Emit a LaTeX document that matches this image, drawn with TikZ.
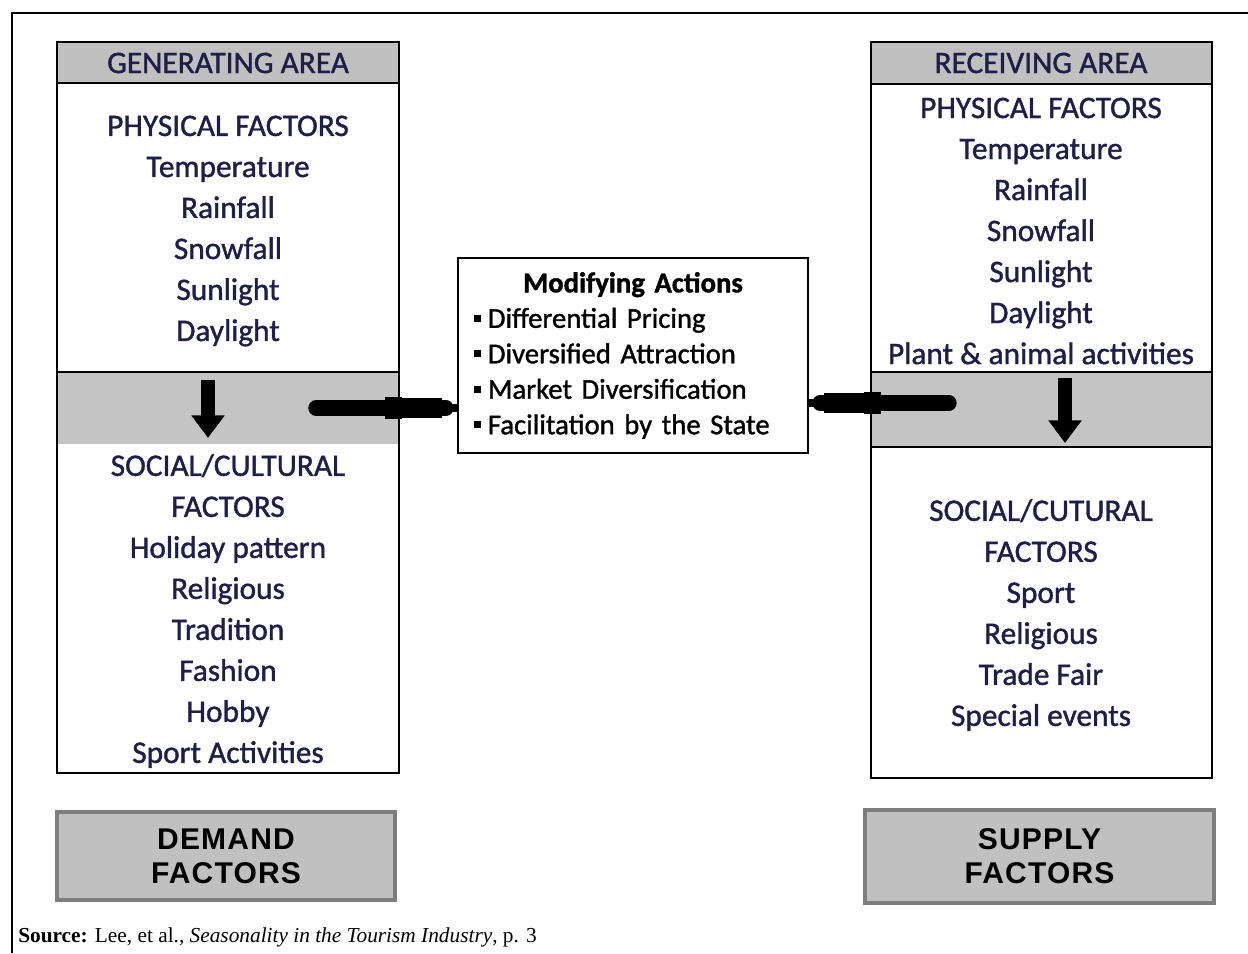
\documentclass[tikz,border=0pt]{standalone}
\usepackage{fontspec}
\setmainfont{Carlito}[FakeBold=1.2]
\newfontfamily\headfont[LetterSpace=4]{Liberation Sans}
\newfontfamily\srcfont{Liberation Serif}
\usetikzlibrary{arrows.meta,positioning}
\definecolor{navytext}{RGB}{30,30,72}
\definecolor{hdrgray}{RGB}{192,192,192}
\definecolor{bandgray}{RGB}{196,196,196}
\definecolor{rimgray}{RGB}{125,125,125}
\newcommand{\sqbul}{\rule[4.5pt]{5.2pt}{5.2pt}\hspace{5pt}}
\tikzset{
  outerframe/.style={line width=1.5pt},
  colbox/.style={draw, line width=2.2pt},
  hdrbox/.style={draw, fill=hdrgray, line width=2.2pt},
  band/.style={fill=bandgray},
  coltext/.style={text=navytext, align=center, font=\fontsize{23.5}{30.75}\selectfont},
  modbox/.style={draw, line width=1.5pt, minimum width=262.5pt, minimum height=146pt, text width=238pt, inner sep=0pt, font=\fontsize{21.5}{26.6}\selectfont},
  sumbox/.style={draw=rimgray, fill=hdrgray, line width=3pt, align=center, font=\headfont\bfseries\fontsize{22.5}{25.5}\selectfont},
  downarrow/.style={line width=11pt, -{Triangle[length=17pt,width=24pt]}},
  penarrow/.style={line width=11.5pt, line cap=round,
    -{Rectangle[length=13pt,width=16pt,sep=0pt] Rectangle[length=30pt,width=8pt,sep=0pt] Rectangle[length=11pt,width=4.5pt,sep=0pt]}}
}
\begin{document}
\begin{tikzpicture}[x=0.75pt,y=-0.75pt]
  \useasboundingbox (0,0) rectangle (1248,953);
  \draw[outerframe] (12,953) -- (12,13) -- (1248,13);

  % generating area
  \draw[hdrbox] (57,42) rectangle (399,83);
  \fill[band] (57,372) rectangle (399,444);
  \draw[colbox] (57,83) rectangle (399,773);
  \draw[colbox] (57,372) -- (399,372);
  \node[coltext] (genhead) at (228,63) {GENERATING AREA};
  \node[coltext] (genphys) at (228,231) {PHYSICAL FACTORS\\Temperature\\Rainfall\\Snowfall\\Sunlight\\Daylight};
  \node[coltext] (gensoc) at (228,611) {SOCIAL/CULTURAL\\FACTORS\\Holiday pattern\\Religious\\Tradition\\Fashion\\Hobby\\Sport Activities};

  % receiving area
  \draw[hdrbox] (871,42) rectangle (1212,84);
  \fill[band] (871,372) rectangle (1212,447);
  \draw[colbox] (871,84) rectangle (1212,778);
  \draw[colbox] (871,372) -- (1212,372);
  \draw[colbox] (871,447) -- (1212,447);
  \node[coltext] (rechead) at (1041,63) {RECEIVING AREA};
  \node[coltext] (recphys) at (1041,231) {PHYSICAL FACTORS\\Temperature\\Rainfall\\Snowfall\\Sunlight\\Daylight\\Plant \& animal activities};
  \node[coltext] (recsoc) at (1041,615) {SOCIAL/CUTURAL\\FACTORS\\Sport\\Religious\\Trade Fair\\Special events};

  % modifying actions
  \node[modbox] (modify) at (633,355.5) {%
    {\centering\bfseries Modifying Actions\par}
    \raggedright
    \sqbul Differential Pricing\par
    \sqbul Diversified Attraction\par
    \sqbul Market Diversification\par
    \sqbul Facilitation by the State\par};

  \coordinate (gendn1) at (208,380);
  \coordinate (gendn2) at (208,438);
  \coordinate (recdn1) at (1065,378);
  \coordinate (recdn2) at (1065,443);
  \coordinate (genout) at (316,408);
  \coordinate (recout) at (949,403);
  \draw[downarrow] (gendn1) -- (gendn2);
  \draw[downarrow] (recdn1) -- (recdn2);
  \draw[penarrow] (genout) -- (modify.west |- genout);
  \draw[penarrow] (recout) -- (modify.east |- recout);

  % summary boxes
  \node[sumbox, minimum width=253.5pt, minimum height=66pt] (demand) at (226,856) {DEMAND\\FACTORS};
  \node[sumbox, minimum width=261.75pt, minimum height=69.75pt] (supply) at (1039.5,856.5) {SUPPLY\\FACTORS};

  \node[anchor=west, inner sep=0pt, font=\srcfont\fontsize{16}{18}\selectfont] (src) at (18,937)
    {\textbf{Source:} Lee, et al., \textit{Seasonality in the Tourism Industry}, p. 3};
\end{tikzpicture}
\end{document}
